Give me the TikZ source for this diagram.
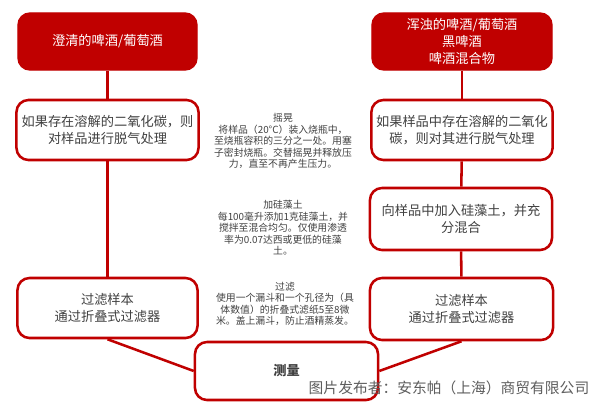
\documentclass[tikz,border=0pt]{standalone}
\usepackage{fontspec}
\setmainfont{Noto Sans CJK SC}
\usetikzlibrary{positioning}
\definecolor{penColor}{RGB}{192,0,0}
\definecolor{inkColor}{RGB}{64,64,64}
\tikzset{
  headbox/.style={draw=penColor, fill=penColor, line width=1pt, rounded corners=0.3cm,
    text=white, align=center, font=\fontsize{9.4}{12.4}\selectfont},
  stepbox/.style={draw=penColor, line width=1.8pt, rounded corners=0.3cm,
    text=inkColor, align=center, font=\fontsize{9.4}{12}\selectfont},
  note/.style={text=inkColor, align=center, font=\fontsize{7}{8.2}\selectfont},
  link/.style={penColor, line width=1.8pt}
}

\begin{document}
\begin{tikzpicture}[x=0.025cm, y=-0.025cm]
		\useasboundingbox (0,0) rectangle (600,402);
		% left column
		\node [headbox, minimum width=4.475cm, minimum height=1.425cm] (lhead) at (107.5,41.5) {澄清的啤酒/葡萄酒};
		\node [stepbox, minimum width=4.55cm, minimum height=1.5cm] (lcheck) at (107.5,130) {如果存在溶解的二氧化碳，则\\对样品进行脱气处理};
		\node [stepbox, minimum width=4.5cm, minimum height=1.5cm] (lfilter) at (107.5,308) {过滤样本\\通过折叠式过滤器};
		% right column
		\node [headbox, minimum width=4.5cm, minimum height=1.425cm] (rhead) at (462,41.5) {浑浊的啤酒/葡萄酒\\黑啤酒\\啤酒混合物};
		\node [stepbox, minimum width=4.5cm, minimum height=1.5cm] (rcheck) at (462,130) {如果样品中存在溶解的二氧化\\碳，则对其进行脱气处理};
		\node [stepbox, minimum width=4.55cm, minimum height=1.55cm] (radd) at (461,219) {向样品中加入硅藻土，并充\\分混合};
		\node [stepbox, minimum width=4.575cm, minimum height=1.55cm] (rfilter) at (461.5,309) {过滤样本\\通过折叠式过滤器};
		% bottom
		\node [stepbox, minimum width=4.575cm, minimum height=1.45cm, font=\fontsize{9.4}{12}\selectfont\bfseries] (measure) at (286.5,371) {测量};
		% notes in the middle
		\node [note] (shake) at (283,141) {摇晃\\将样品（20°C）装入烧瓶中，\\至烧瓶容积的三分之一处。用塞\\子密封烧瓶。交替摇晃并释放压\\力，直至不再产生压力。};
		\node [note] (kiesel) at (283,228) {加硅藻土\\每100毫升添加1克硅藻土，并\\搅拌至混合均匀。仅使用渗透\\率为0.07达西或更低的硅藻\\土。};
		\node [note] (filtering) at (285,304) {过滤\\使用一个漏斗和一个孔径为（具\\体数值）的折叠式滤纸5至8微\\米。盖上漏斗，防止酒精蒸发。};
		% connectors
		\draw [link] (lhead) -- (lcheck);
		\draw [link] (lcheck) -- (lfilter);
		\draw [link] (rhead) -- (rcheck);
		\draw [link] (rcheck) -- (radd);
		\draw [link] (radd) -- (rfilter);
		\draw [link] (lfilter.south) -- (measure.west);
		\draw [link] (rfilter.south) -- (measure.east);
		% publisher line
		\node [text=inkColor!85, font=\fontsize{10.5}{12}\selectfont] (credit) at (449,388) {图片发布者：安东帕（上海）商贸有限公司};
		\end{tikzpicture}
\end{document}
